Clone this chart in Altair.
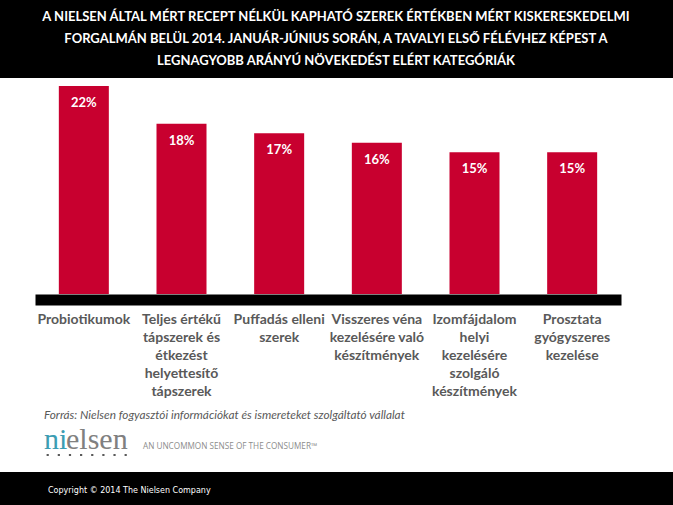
import altair as alt
import pandas as pd

# Chart content
title_lines = [
    "A NIELSEN ÁLTAL MÉRT RECEPT NÉLKÜL KAPHATÓ SZEREK ÉRTÉKBEN MÉRT KISKERESKEDELMI",
    "FORGALMÁN BELÜL 2014. JANUÁR-JÚNIUS SORÁN, A TAVALYI ELSŐ FÉLÉVHEZ KÉPEST A",
    "LEGNAGYOBB ARÁNYÚ NÖVEKEDÉST ELÉRT KATEGÓRIÁK",
]
categories = [
    "Probiotikumok",
    "Teljes értékű|tápszerek és|étkezést|helyettesítő|tápszerek",
    "Puffadás elleni|szerek",
    "Visszeres véna|kezelésére való|készítmények",
    "Izomfájdalom|helyi|kezelésére|szolgáló|készítmények",
    "Prosztata|gyógyszeres|kezelése",
]
values = [22, 18, 17, 16, 15, 15]
source_note = "Forrás: Nielsen fogyasztói információkat és ismereteket szolgáltató vállalat"
brand_head = "ni"
brand_tail = "elsen"
tagline = "AN UNCOMMON SENSE OF THE CONSUMER™"
copyright_note = "Copyright © 2014 The Nielsen Company"

RED = "#C8002F"
GREY = "#595959"
TEAL = "#3C9DB3"

df = pd.DataFrame({
    "category": categories,
    "value": values,
    "label": [f"{v}%" for v in values],
})

x_enc = alt.X(
    "category:N",
    sort=categories,
    scale=alt.Scale(paddingInner=0.488, paddingOuter=0.244),
    axis=alt.Axis(
        title=None,
        labelAngle=0,
        labelExpr="split(datum.label, '|')",
        labelFont="Lato",
        labelFontWeight="bold",
        labelFontSize=14,
        labelColor=GREY,
        labelLineHeight=18,
        labelPadding=13,
        labelLimit=0,
        ticks=False,
        tickSize=0,
        domainColor="black",
        domainWidth=11,
        offset=5.5,
        grid=False,
    ),
)
y_enc = alt.Y("value:Q", scale=alt.Scale(domain=[0, 22], nice=False), axis=None)

bars = alt.Chart(df).mark_bar(color=RED).encode(x=x_enc, y=y_enc)

value_labels = alt.Chart(df).mark_text(
    baseline="middle", dy=17, color="white",
    font="Lato", fontWeight="bold", fontSize=13,
).encode(x=x_enc, y=y_enc, text="label:N")

one = alt.Data(values=[{"k": 0}])

# Black title band
header_bg = alt.Chart(one).mark_rect(color="black").encode(
    x=alt.value(-35), x2=alt.value(638), y=alt.value(-86), y2=alt.value(-8)
)
header_text = alt.Chart(one).mark_text(
    text="\n".join(title_lines), lineBreak="\n", lineHeight=22,
    align="center", baseline="middle", color="white",
    font="Lato", fontWeight="bold", fontSize=13,
).encode(x=alt.value(301), y=alt.value(-69))

source = alt.Chart(one).mark_text(
    text=source_note, align="left", baseline="middle",
    font="Lato", fontStyle="italic", fontSize=11.8, color=GREY,
).encode(x=alt.value(9), y=alt.value(329))

# Brand wordmark with its dotted underline
logo_head = alt.Chart(one).mark_text(
    text=brand_head, align="left", baseline="alphabetic",
    font="Liberation Serif", fontSize=30, color=TEAL,
).encode(x=alt.value(9), y=alt.value(363))
logo_tail = alt.Chart(one).mark_text(
    text=brand_tail, align="left", baseline="alphabetic",
    font="Liberation Serif", fontSize=30, color="#808080",
).encode(x=alt.value(31), y=alt.value(363))
logo_dots = alt.Chart(one).mark_rule(
    color="#5A5A5A", strokeWidth=2.2, strokeDash=[2.2, 8.94],
).encode(x=alt.value(11.6), x2=alt.value(92), y=alt.value(369))
tag = alt.Chart(one).mark_text(
    text=tagline, align="left", baseline="middle",
    font="Open Sans", fontSize=8.2, color="#8C8C8C",
).encode(x=alt.value(108), y=alt.value(361))

# Black footer band
footer_bg = alt.Chart(one).mark_rect(color="black").encode(
    x=alt.value(-35), x2=alt.value(638), y=alt.value(386), y2=alt.value(419)
)
footer_text = alt.Chart(one).mark_text(
    text=copyright_note, align="left", baseline="middle",
    font="DejaVu Sans", fontSize=8, color="white",
).encode(x=alt.value(13), y=alt.value(405))

chart = alt.layer(
    header_bg, header_text, bars, value_labels,
    source, logo_head, logo_tail, logo_dots, tag,
    footer_bg, footer_text,
).properties(
    width=586, height=208,
    autosize="none",
    padding={"left": 35, "top": 86, "right": 52, "bottom": 211},
    background="white",
).configure_view(stroke=None)

chart.save("out.html", embed_options={"renderer": "svg", "actions": False})
